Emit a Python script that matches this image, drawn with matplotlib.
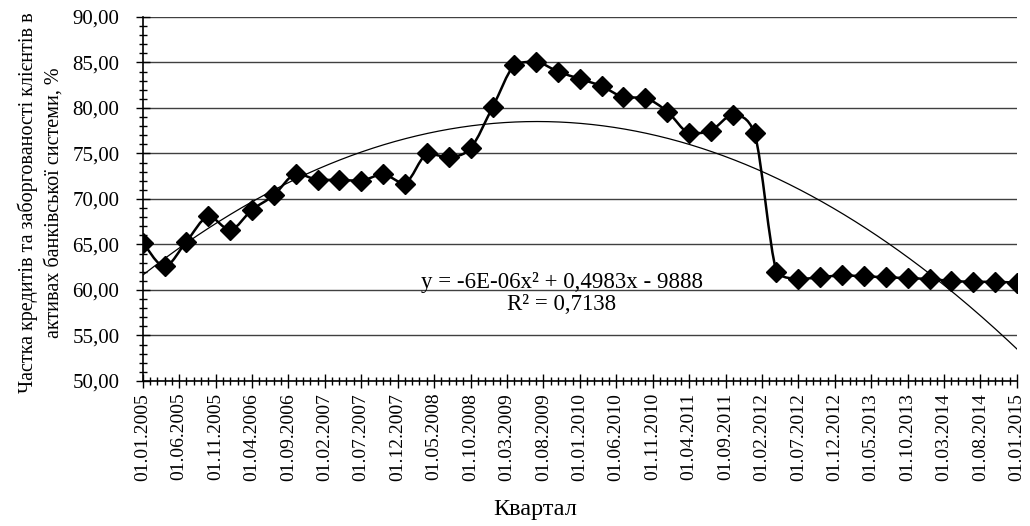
import numpy as np
import pandas as pd
import matplotlib
matplotlib.use("Agg")
import matplotlib.pyplot as plt
import matplotlib.dates as mdates
from matplotlib.path import Path
from matplotlib.patches import PathPatch
from matplotlib.ticker import MultipleLocator, FixedLocator, FuncFormatter

plt.rcParams['font.family'] = ['Liberation Serif', 'DejaVu Serif']

# quarterly observations, 01.01.2005 .. 01.01.2015
quarters = pd.date_range("2005-01-01", "2015-01-01", freq="QS")
share = [65.2, 62.6, 65.3, 68.1, 66.6, 68.8, 70.4, 72.8, 72.1, 72.1,
         72.0, 72.7, 71.7, 75.0, 74.6, 75.6, 80.1, 84.7, 85.1, 84.0,
         83.2, 82.4, 81.2, 81.1, 79.6, 77.2, 77.5, 79.2, 77.2, 62.0,
         61.2, 61.4, 61.6, 61.5, 61.4, 61.3, 61.2, 61.0, 60.9, 60.9,
         60.8]
tick_dates = pd.date_range("2005-01-01", "2015-01-01", freq="5MS")
tick_labels = [d.strftime("%d.%m.%Y") for d in tick_dates]
equation = "y = -6E-06x² + 0,4983x - 9888\nR² = 0,7138"
ylabel = "Частка кредитів та заборгованості клієнтів в\nактивах банківської системи, %"
xlabel = "Квартал"

fig = plt.figure(figsize=(10.3, 5.26), dpi=100)
ax = fig.add_axes([0.1388, 0.2757, 0.8486, 0.692])

x = mdates.date2num(quarters)
y = np.array(share)

# smoothed line through the points, control points kept inside each segment's range
px = np.concatenate([[x[0]], x, [x[-1]]])
py = np.concatenate([[y[0]], y, [y[-1]]])
verts = [(x[0], y[0])]
codes = [Path.MOVETO]
for i in range(1, len(px) - 2):
    lo, hi = min(py[i], py[i + 1]), max(py[i], py[i + 1])
    c1y = np.clip(py[i] + (py[i + 1] - py[i - 1]) / 6, lo, hi)
    c2y = np.clip(py[i + 1] - (py[i + 2] - py[i]) / 6, lo, hi)
    c1 = (px[i] + (px[i + 1] - px[i - 1]) / 6, c1y)
    c2 = (px[i + 1] - (px[i + 2] - px[i]) / 6, c2y)
    verts += [c1, c2, (px[i + 1], py[i + 1])]
    codes += [Path.CURVE4] * 3
ax.add_patch(PathPatch(Path(verts, codes), facecolor='none', edgecolor='black', lw=1.8, zorder=3))
ax.plot(x, y, ls='none', marker='D', markersize=10, color='black', zorder=4)

# polynomial trend, 2nd order
coef = np.polyfit(x, y, 2)
xs = np.linspace(x[0], x[-1], 400)
ax.plot(xs, np.polyval(coef, xs), color='black', lw=0.9, zorder=2)

ax.set_xlim(x[0], x[-1])
ax.set_ylim(50, 90)

ax.xaxis.set_major_locator(FixedLocator(mdates.date2num(tick_dates)))
ax.set_xticklabels(tick_labels, rotation=90, fontsize=14)
ax.xaxis.set_minor_locator(mdates.MonthLocator())
ax.yaxis.set_major_locator(MultipleLocator(5))
ax.yaxis.set_minor_locator(MultipleLocator(1))
ax.yaxis.set_major_formatter(FuncFormatter(lambda v, p: f"{v:.2f}".replace('.', ',')))
ax.tick_params(axis='y', labelsize=15, pad=12)
ax.tick_params(which='major', direction='inout', length=10, width=1, color='black')
ax.tick_params(which='minor', direction='inout', length=6, width=1, color='black')

ax.yaxis.grid(True, color='#404040', lw=1)
ax.set_axisbelow(True)
for s in ['top', 'right']:
    ax.spines[s].set_visible(False)
ax.spines['left'].set_linewidth(1.2)
ax.spines['bottom'].set_linewidth(1.2)

ax.text(0.479, 0.24, equation, transform=ax.transAxes, ha='center', va='center',
        multialignment='center', fontsize=16.5, linespacing=1.1)

fig.text(0.039, 0.615, ylabel, rotation=90, ha='center', va='center',
         multialignment='center', fontsize=14.5, linespacing=1.45)
fig.text(535 / 1030, 1 - 510 / 526, xlabel, ha='center', va='center', fontsize=17.5)

fig.savefig("out.png", dpi=100)
